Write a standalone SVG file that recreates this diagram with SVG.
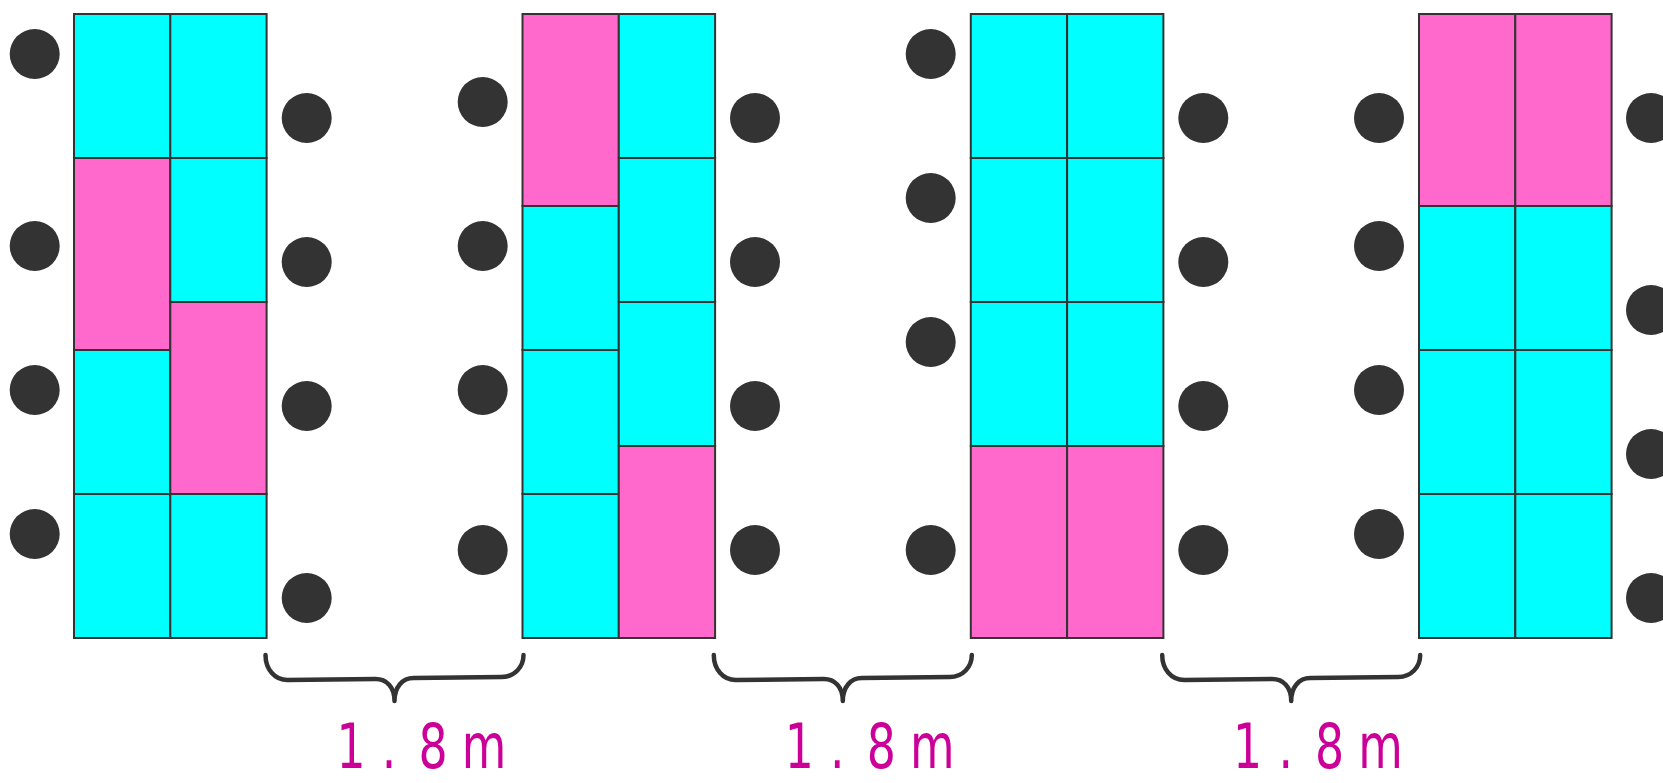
<svg xmlns="http://www.w3.org/2000/svg" width="1663" height="783" viewBox="0 0 1663 783">
<style>
.c{fill:#00FFFF;stroke:#333;stroke-width:2}
.p{fill:#FF69CC;stroke:#333;stroke-width:2}
.d{fill:#333}
.br{fill:none;stroke:#333;stroke-width:4.5;stroke-linecap:round;stroke-linejoin:round}
.t{font-family:"DejaVu Sans Condensed","DejaVu Sans",sans-serif;font-size:62px;fill:#CC0099;text-anchor:middle}
</style>
<rect width="1663" height="783" fill="#fff"/>
<defs>
<path id="brace" d="M0,655 C0,669 9,680 22,680 L110,679 C121,679 129,687 129,701 C129,687 137,678 148,678 L236,677 C249,677 258,667 258,655"/>
</defs>

<g id="block1">
<rect class="c" x="74" y="14" width="96.3" height="144"/>
<rect class="p" x="74" y="158" width="96.3" height="192"/>
<rect class="c" x="74" y="350" width="96.3" height="144"/>
<rect class="c" x="74" y="494" width="96.3" height="144"/>
<rect class="c" x="170.3" y="14" width="96.3" height="144"/>
<rect class="c" x="170.3" y="158" width="96.3" height="144"/>
<rect class="p" x="170.3" y="302" width="96.3" height="192"/>
<rect class="c" x="170.3" y="494" width="96.3" height="144"/>
</g>
<g id="block2">
<rect class="p" x="522.5" y="14" width="96.3" height="192"/>
<rect class="c" x="522.5" y="206" width="96.3" height="144"/>
<rect class="c" x="522.5" y="350" width="96.3" height="144"/>
<rect class="c" x="522.5" y="494" width="96.3" height="144"/>
<rect class="c" x="618.8" y="14" width="96.3" height="144"/>
<rect class="c" x="618.8" y="158" width="96.3" height="144"/>
<rect class="c" x="618.8" y="302" width="96.3" height="144"/>
<rect class="p" x="618.8" y="446" width="96.3" height="192"/>
</g>
<g id="block3">
<rect class="c" x="970.8" y="14" width="96.3" height="144"/>
<rect class="c" x="970.8" y="158" width="96.3" height="144"/>
<rect class="c" x="970.8" y="302" width="96.3" height="144"/>
<rect class="p" x="970.8" y="446" width="96.3" height="192"/>
<rect class="c" x="1067.1" y="14" width="96.3" height="144"/>
<rect class="c" x="1067.1" y="158" width="96.3" height="144"/>
<rect class="c" x="1067.1" y="302" width="96.3" height="144"/>
<rect class="p" x="1067.1" y="446" width="96.3" height="192"/>
</g>
<g id="block4">
<rect class="p" x="1419" y="14" width="96.3" height="192"/>
<rect class="c" x="1419" y="206" width="96.3" height="144"/>
<rect class="c" x="1419" y="350" width="96.3" height="144"/>
<rect class="c" x="1419" y="494" width="96.3" height="144"/>
<rect class="p" x="1515.3" y="14" width="96.3" height="192"/>
<rect class="c" x="1515.3" y="206" width="96.3" height="144"/>
<rect class="c" x="1515.3" y="350" width="96.3" height="144"/>
<rect class="c" x="1515.3" y="494" width="96.3" height="144"/>
</g>

<g id="dots">
<circle class="d" cx="34.7" cy="54" r="25"/>
<circle class="d" cx="34.7" cy="246" r="25"/>
<circle class="d" cx="34.7" cy="390" r="25"/>
<circle class="d" cx="34.7" cy="534" r="25"/>
<circle class="d" cx="306.7" cy="118" r="25"/>
<circle class="d" cx="306.7" cy="262" r="25"/>
<circle class="d" cx="306.7" cy="406" r="25"/>
<circle class="d" cx="306.7" cy="598" r="25"/>
<circle class="d" cx="482.7" cy="102" r="25"/>
<circle class="d" cx="482.7" cy="246" r="25"/>
<circle class="d" cx="482.7" cy="390" r="25"/>
<circle class="d" cx="482.7" cy="550" r="25"/>
<circle class="d" cx="755" cy="118" r="25"/>
<circle class="d" cx="755" cy="262" r="25"/>
<circle class="d" cx="755" cy="406" r="25"/>
<circle class="d" cx="755" cy="550" r="25"/>
<circle class="d" cx="930.7" cy="54" r="25"/>
<circle class="d" cx="930.7" cy="198" r="25"/>
<circle class="d" cx="930.7" cy="342" r="25"/>
<circle class="d" cx="930.7" cy="550" r="25"/>
<circle class="d" cx="1203.3" cy="118" r="25"/>
<circle class="d" cx="1203.3" cy="262" r="25"/>
<circle class="d" cx="1203.3" cy="406" r="25"/>
<circle class="d" cx="1203.3" cy="550" r="25"/>
<circle class="d" cx="1379" cy="118" r="25"/>
<circle class="d" cx="1379" cy="246" r="25"/>
<circle class="d" cx="1379" cy="390" r="25"/>
<circle class="d" cx="1379" cy="534" r="25"/>
<circle class="d" cx="1651" cy="118" r="25"/>
<circle class="d" cx="1651" cy="310" r="25"/>
<circle class="d" cx="1651" cy="454" r="25"/>
<circle class="d" cx="1651" cy="598" r="25"/>
</g>

<g id="braces">
<use href="#brace" class="br" x="265.5"/>
<use href="#brace" class="br" x="713.8"/>
<use href="#brace" class="br" x="1162.2"/>
</g>

<g id="labels" transform="scale(0.82,1)">
<text class="t" x="428 474.4 528 590.2" y="768">1.8m</text>
<text class="t" x="974.7 1021.1 1074.7 1136.9" y="768">1.8m</text>
<text class="t" x="1521.5 1567.9 1621.5 1683.7" y="768">1.8m</text>
</g>
</svg>
